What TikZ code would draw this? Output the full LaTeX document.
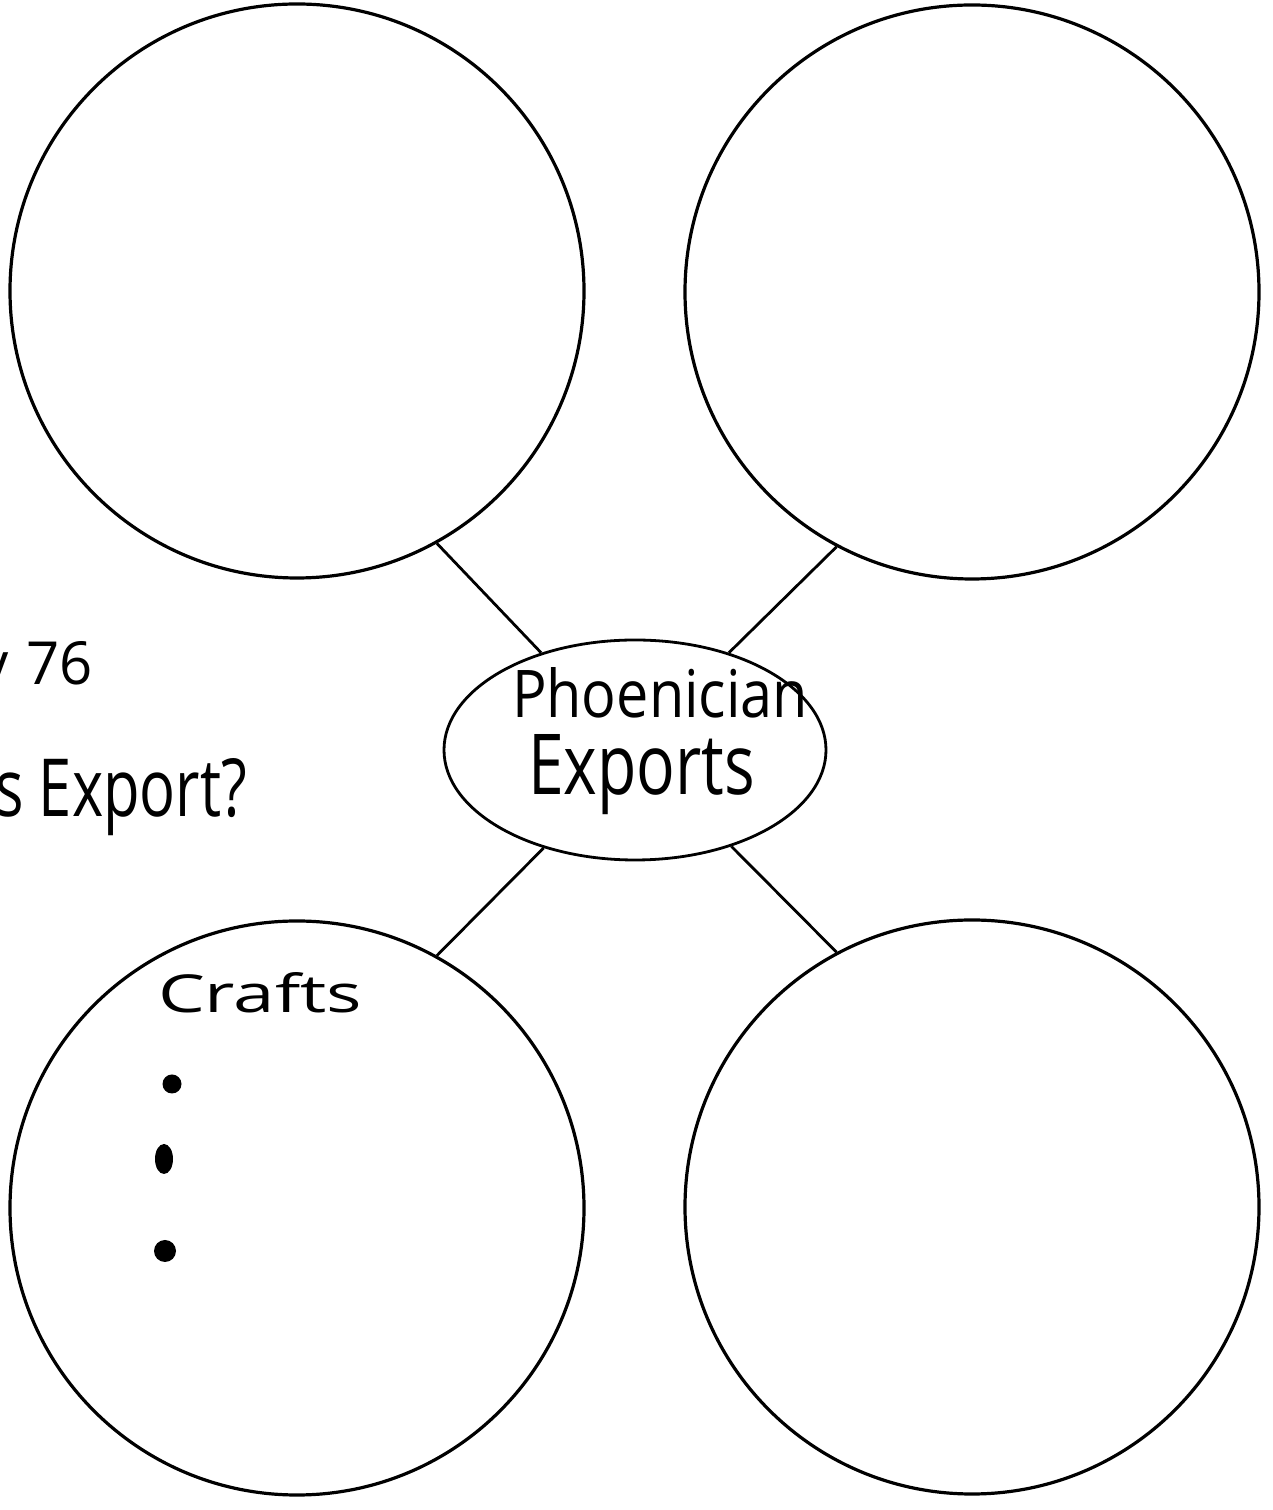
\documentclass[tikz,border=0pt]{standalone}
\usepackage{fontspec}
\setmainfont{Open Sans}
\usetikzlibrary{shapes.geometric}
% stretch a handwritten-style word to a given width and height
\newcommand{\handword}[3]{\resizebox{#1}{#2}{#3}}
\begin{document}
\begin{tikzpicture}[x=1pt,y=1pt,
  bubble/.style={circle,draw,line width=3.2pt,minimum size=574pt,inner sep=0pt},
  hub/.style={ellipse,draw,line width=2.8pt,minimum width=382pt,minimum height=220pt,inner sep=0pt},
  spoke/.style={line width=2.8pt},
  hand/.style={inner sep=0pt,outer sep=0pt},
  dot/.style={circle,fill=black,inner sep=0pt}]
\useasboundingbox (0,0) rectangle (1273,1510);
\fill[white] (0,0) rectangle (1273,1510);

% four answer bubbles
\node[bubble] (tl) at (297,1219) {};
\node[bubble] (tr) at (972,1218) {};
\node[bubble] (bl) at (297,302) {};
\node[bubble] (br) at (972,303) {};

% central topic
\node[hub] (hub) at (635,760) {};
\node[hand,anchor=base west] (hubA) at (512,792) {\handword{296pt}{50pt}{Phoenician}};
\node[hand,anchor=base west] (hubB) at (528,715) {\handword{227pt}{60pt}{Exports}};

% spokes
\draw[spoke] (tl.-61.4) -- (hub.134);
\draw[spoke] (tr.-118.5) -- (hub.46.5);
\draw[spoke] (bl.61.2) -- (hub.-133);
\draw[spoke] (br.118.4) -- (hub.-45.3);

% notes in the lower-left bubble
\node[hand,anchor=base west] (crafts) at (158,497) {\handword{204pt}{40pt}{Crafts}};
\node[dot,minimum size=19pt] (b1) at (172,426) {};
\node[dot,ellipse,minimum width=18pt,minimum height=30pt] (b2) at (164,351) {};
\node[dot,minimum size=22pt] (b3) at (165,259) {};

% question at the left margin
\begin{scope}
\clip (0,0) rectangle (1273,1510);
\node[hand,anchor=base west] (page) at (-20,825) {\handword{113pt}{43pt}{y\hspace{0.3em}76}};
\node[hand,anchor=base west] (quest) at (-5,693) {\handword{252pt}{58pt}{s Export?}};
\end{scope}
\end{tikzpicture}
\end{document}
